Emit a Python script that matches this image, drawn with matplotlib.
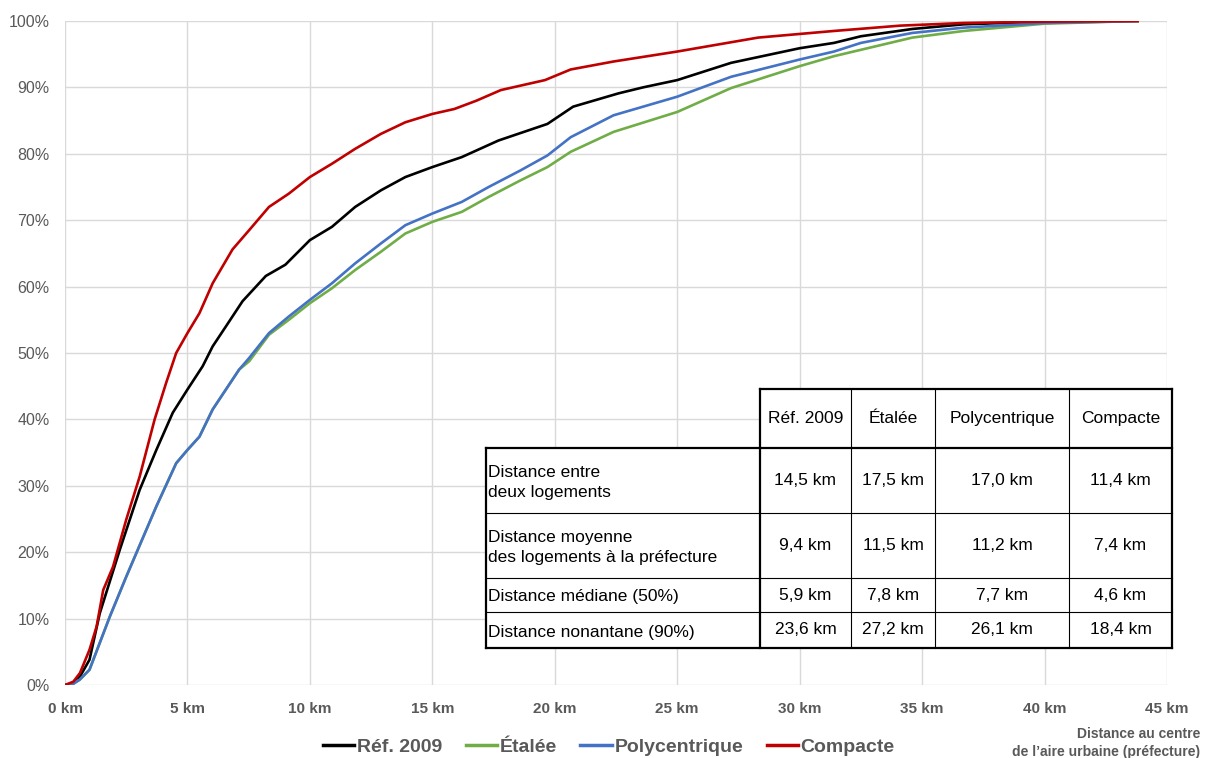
import matplotlib
matplotlib.use("Agg")
import matplotlib.pyplot as plt
from matplotlib.patches import Rectangle
from matplotlib.lines import Line2D
from matplotlib.ticker import FuncFormatter, MultipleLocator

W, H = 1207, 758
FONT = "Liberation Sans"
GREY = "#595959"

# cumulative share of dwellings (%) by distance to the prefecture (km)
km_ref = [0, 0.3, 0.6, 1.0, 1.42, 2.24, 3.05, 3.73, 4.4, 5.0, 5.62, 6.03, 6.57,
          7.25, 8.2, 9.0, 10.0, 10.9, 11.85, 12.9, 13.9, 15.0, 16.2, 17.7, 19.7,
          20.75, 22.6, 23.6, 25.0, 27.2, 30.0, 31.4, 32.5, 34.6, 36.7, 40.0, 43.8]
pct_ref = [0, 0.1, 1.2, 3.8, 10.8, 20.4, 29.4, 35.4, 41.0, 44.5, 48.0, 51.0, 54.0,
           57.8, 61.6, 63.3, 67.0, 69.0, 72.0, 74.5, 76.5, 78.0, 79.5, 82.0, 84.5,
           87.1, 89.1, 90.0, 91.1, 93.7, 95.9, 96.7, 97.7, 98.8, 99.5, 99.9, 100]

km_eta = [0, 0.3, 0.6, 1.0, 1.83, 2.5, 3.73, 4.54, 5.0, 5.49, 6.03, 7.11, 7.52,
          8.33, 9.14, 10.0, 10.9, 11.85, 12.9, 13.9, 15.0, 16.2, 17.3, 18.6, 19.7,
          20.65, 22.4, 25.0, 27.2, 30.0, 31.4, 34.6, 36.7, 40.0, 43.8]
pct_eta = [0, 0.1, 0.8, 2.3, 10.3, 16.3, 26.9, 33.4, 35.4, 37.4, 41.5, 47.5, 48.75,
           52.75, 55.0, 57.5, 59.75, 62.5, 65.25, 68.0, 69.75, 71.25, 73.5, 76.0,
           78.0, 80.3, 83.3, 86.3, 89.9, 93.2, 94.7, 97.5, 98.5, 99.6, 100]

km_pol = [0, 0.3, 0.6, 1.0, 1.83, 2.5, 3.73, 4.54, 5.0, 5.49, 6.03, 7.11, 7.52,
          8.33, 9.14, 10.0, 10.9, 11.85, 12.9, 13.9, 15.0, 16.2, 17.3, 18.6, 19.7,
          20.65, 22.4, 25.0, 27.2, 30.0, 31.4, 32.5, 34.6, 36.7, 40.0, 43.8]
pct_pol = [0, 0.1, 0.8, 2.3, 10.3, 16.3, 26.9, 33.4, 35.4, 37.4, 41.5, 47.5, 49.25,
           53.0, 55.5, 58.0, 60.5, 63.5, 66.5, 69.25, 71.0, 72.75, 75.0, 77.5,
           79.75, 82.5, 85.8, 88.6, 91.6, 94.2, 95.4, 96.7, 98.2, 99.0, 99.7, 100]

km_com = [0, 0.34, 0.61, 1.0, 1.29, 1.56, 1.96, 2.5, 3.05, 3.66, 4.13, 4.54, 5.0,
          5.49, 6.03, 6.84, 7.52, 8.33, 9.14, 10.0, 10.9, 11.85, 12.9, 13.9, 15.0,
          15.9, 16.8, 17.8, 19.6, 20.65, 22.4, 25.0, 28.3, 31.4, 34.1, 36.7, 40.0,
          43.8]
pct_com = [0, 0.5, 1.8, 5.3, 8.8, 14.3, 17.8, 24.9, 31.4, 40.0, 45.5, 50.0, 53.0,
           56.0, 60.5, 65.6, 68.5, 72.0, 74.0, 76.5, 78.5, 80.75, 83.0, 84.75, 86.0,
           86.75, 88.0, 89.6, 91.1, 92.7, 93.9, 95.4, 97.5, 98.5, 99.3, 99.7, 99.9,
           100]

series = [
    ("Réf. 2009", km_ref, pct_ref, "#000000"),
    ("Étalée", km_eta, pct_eta, "#70AD47"),
    ("Polycentrique", km_pol, pct_pol, "#4472C4"),
    ("Compacte", km_com, pct_com, "#C00000"),
]

# summary table
table_cols = ["Réf. 2009", "Étalée", "Polycentrique", "Compacte"]
table_rows = ["Distance entre\ndeux logements",
              "Distance moyenne\ndes logements à la préfecture",
              "Distance médiane (50%)",
              "Distance nonantane (90%)"]
table_vals = [["14,5 km", "17,5 km", "17,0 km", "11,4 km"],
              ["9,4 km", "11,5 km", "11,2 km", "7,4 km"],
              ["5,9 km", "7,8 km", "7,7 km", "4,6 km"],
              ["23,6 km", "27,2 km", "26,1 km", "18,4 km"]]


def fx(px):
    return px / W


def fy(py):
    return 1 - py / H


fig = plt.figure(figsize=(W / 100, H / 100), dpi=100)
ax = fig.add_axes([fx(65), fy(685), fx(1167) - fx(65), fy(21) - fy(685)])

for label, xs, ys, col in series:
    ax.plot(xs, ys, color=col, lw=1.9, label=label, solid_joinstyle="round", zorder=3)

ax.set_xlim(0, 45)
ax.set_ylim(0, 100)
ax.xaxis.set_major_locator(MultipleLocator(5))
ax.yaxis.set_major_locator(MultipleLocator(10))
ax.xaxis.set_major_formatter(FuncFormatter(lambda v, p: f"{v:.0f} km"))
ax.yaxis.set_major_formatter(FuncFormatter(lambda v, p: f"{v:.0f}%"))
ax.grid(True, color="#D9D9D9", lw=1.0, zorder=0)
for s in ax.spines.values():
    s.set_visible(False)
ax.tick_params(length=0, colors=GREY, labelsize=11)
ax.tick_params(axis="x", pad=12)
ax.tick_params(axis="y", pad=11)
for t in ax.get_xticklabels():
    t.set_fontweight("bold")
    t.set_fontfamily(FONT)
for t in ax.get_yticklabels():
    t.set_fontfamily(FONT)
    t.set_fontsize(11.5)

fig.text(fx(1200), fy(743), "Distance au centre\nde l’aire urbaine (préfecture)",
         ha="right", va="center", fontsize=10, fontweight="bold", color=GREY,
         family=FONT, linespacing=1.3)

handles = [Line2D([], [], color=c, lw=2.5) for _, _, _, c in series]
fig.legend(handles, [s[0] for s in series], loc="center", bbox_to_anchor=(fx(609), fy(747)),
           ncol=4, frameon=False, handlelength=1.6, handletextpad=0.15, columnspacing=1.2,
           prop={"family": FONT, "weight": "bold", "size": 14}, labelcolor=GREY)

# table drawn in pixel coordinates
col_x = [486, 760, 851, 935, 1069, 1172]
row_y = [389, 448, 513, 578, 612, 648]
tfs = 12.5

# white background for body and header
fig.patches.append(Rectangle((fx(486), fy(648)), fx(1172) - fx(486), fy(448) - fy(648),
                             transform=fig.transFigure, facecolor="white", edgecolor="none", zorder=5))
fig.patches.append(Rectangle((fx(760), fy(448)), fx(1172) - fx(760), fy(389) - fy(448),
                             transform=fig.transFigure, facecolor="white", edgecolor="none", zorder=5))


def hline(y, x0, x1, lw):
    fig.add_artist(Line2D([fx(x0), fx(x1)], [fy(y), fy(y)], color="black", lw=lw, zorder=6))


def vline(x, y0, y1, lw):
    fig.add_artist(Line2D([fx(x), fx(x)], [fy(y0), fy(y1)], color="black", lw=lw, zorder=6))


for i, y in enumerate(row_y):
    x0 = 760 if i == 0 else 486
    hline(y, x0, 1172, 1.6 if i in (0, 1, len(row_y) - 1) else 0.8)
for j, x in enumerate(col_x):
    y0 = 448 if j == 0 else 389
    vline(x, y0, 648, 1.6 if j in (0, 1, len(col_x) - 1) else 0.8)

for j, name in enumerate(table_cols):
    fig.text(fx((col_x[j + 1] + col_x[j + 2]) / 2), fy((row_y[0] + row_y[1]) / 2), name,
             ha="center", va="center", fontsize=tfs, family=FONT, zorder=7)
for i, name in enumerate(table_rows):
    yc = (row_y[i + 1] + row_y[i + 2]) / 2
    fig.text(fx(488), fy(yc + 2), name, ha="left", va="center", fontsize=tfs,
             family=FONT, linespacing=1.35, zorder=7)
    for j, v in enumerate(table_vals[i]):
        fig.text(fx((col_x[j + 1] + col_x[j + 2]) / 2), fy(yc), v, ha="center", va="center",
                 fontsize=tfs, family=FONT, zorder=7)

fig.savefig("out.png", dpi=100)
